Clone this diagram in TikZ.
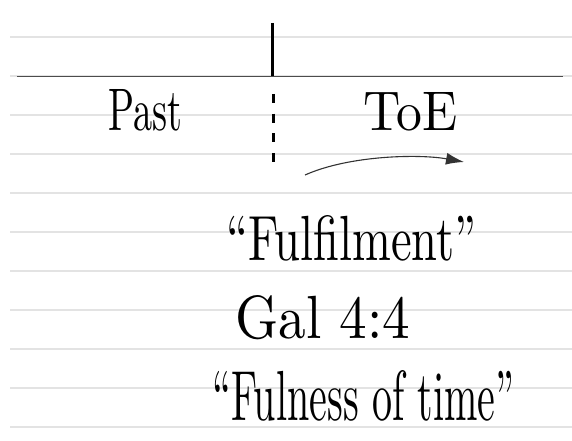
\documentclass[tikz,border=0pt]{standalone}
\usepackage{graphicx}
\usetikzlibrary{arrows.meta}

\newcommand{\handtext}[3]{\resizebox{#1}{#2}{#3}}

\begin{document}
\begin{tikzpicture}[x=1pt, y=-1pt,
	ruled/.style={gray!22, line width=1.2pt},
	hand/.style={inner sep=0pt, anchor=base west}]
	\useasboundingbox[fill=white] (0,0) rectangle (572,441);
	% ruled lines of the page
	\foreach \k in {0,...,10} {
		\draw[ruled] (10,37+39*\k) -- (572,37+39*\k);
	}
	% timeline with the dividing mark
	\draw[gray!60!black, line width=1.8pt] (17,76.5) -- (563,76.5);
	\draw[black, line width=3pt] (272,23) -- (272,76.5);
	\draw[black, line width=3pt, dash pattern=on 9pt off 10.6pt] (273,94) -- (273,163);
	% labels
	\node[hand] (past) at (108,131) {\handtext{74pt}{41pt}{Past}};
	\node[hand] (toe) at (363,130) {\handtext{94pt}{38pt}{ToE}};
	\node[hand] (fulfil) at (226,260) {\handtext{250pt}{45pt}{``Fulfilment''}};
	\node[hand] (gal) at (235,338) {\handtext{175pt}{43pt}{Gal 4:4}};
	\node[hand] (fulness) at (212,420) {\handtext{302pt}{50pt}{``Fulness of time''}};
	% arrow
	\coordinate (arrowstart) at (305,175);
	\coordinate (arrowend) at (464,162);
	\draw[-{Latex[length=18pt,width=12pt]}, line width=1.1pt, black!80] (arrowstart) .. controls (350,155) and (420,154) .. (arrowend);
\end{tikzpicture}
\end{document}
